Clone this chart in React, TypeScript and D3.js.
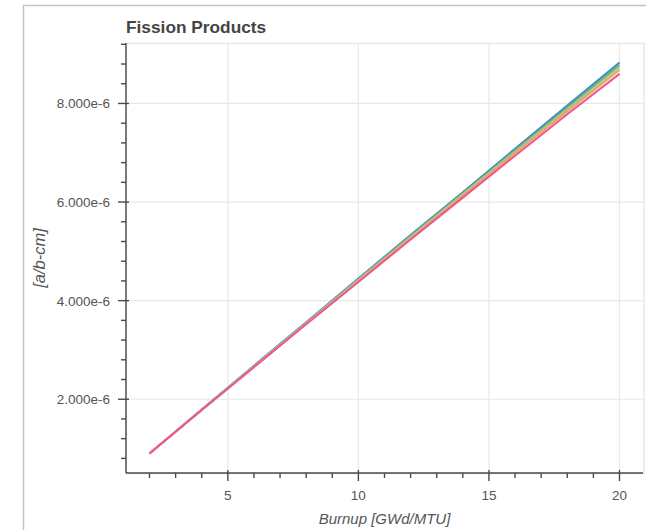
import React, { useRef, useEffect } from 'react';
import * as d3 from 'd3';

// burnup points (GWd/MTU)
const burnup = [2, 4, 6, 8, 10, 12, 14, 16, 18, 20];

// number densities, in units of 1e-6 a/b-cm
const seriesBlue = [0.9, 1.79, 2.68, 3.56, 4.45, 5.33, 6.2, 7.08, 7.96, 8.83];
const seriesTeal = [0.9, 1.79, 2.67, 3.55, 4.43, 5.31, 6.18, 7.05, 7.92, 8.78];
const seriesOlive = [0.9, 1.78, 2.66, 3.54, 4.42, 5.29, 6.16, 7.02, 7.88, 8.73];
const seriesTan = [0.9, 1.78, 2.66, 3.53, 4.4, 5.27, 6.13, 6.99, 7.84, 8.68];
const seriesPink = [0.9, 1.78, 2.65, 3.52, 4.38, 5.24, 6.09, 6.94, 7.78, 8.6];

const xMajorTicks = [5, 10, 15, 20];
const yMajorTicks = [2e-6, 4e-6, 6e-6, 8e-6];

const colors = ['#3a8cc4', '#5fae92', '#c2c46a', '#e3a672', '#f0558e'];

const App = () => {
  const svgRef = useRef<SVGSVGElement>(null);

  useEffect(() => {
    const svg = d3.select(svgRef.current);
    svg.selectAll('*').remove();

    const left = 126, right = 643, top = 43, bottom = 473;
    const font = 'Liberation Sans, Helvetica, Arial, sans-serif';

    const series = [seriesBlue, seriesTeal, seriesOlive, seriesTan, seriesPink]
      .map(s => s.map((v, i) => ({ x: burnup[i], y: v * 1e-6 })));

    // bokeh-style 5% padding on each side
    const xExt = d3.extent(burnup) as [number, number];
    const xPad = (xExt[1] - xExt[0]) * 0.05;
    const allY = series.flat().map(d => d.y);
    const yExt = d3.extent(allY) as [number, number];
    const yPad = (yExt[1] - yExt[0]) * 0.05;

    const x = d3.scaleLinear().domain([xExt[0] - xPad, xExt[1] + xPad]).range([left, right]);
    const y = d3.scaleLinear().domain([yExt[0] - yPad, yExt[1] + yPad]).range([bottom, top]);

    // outer cell frame
    svg.append('path')
      .attr('d', 'M23.5,530 V5.5 H646')
      .attr('fill', 'none')
      .attr('stroke', '#c4c4c4')
      .attr('stroke-width', 1.5);

    // plot outline
    svg.append('rect')
      .attr('x', left).attr('y', top + 0.5)
      .attr('width', right - left + 1).attr('height', bottom - top)
      .attr('fill', 'none')
      .attr('stroke', '#e8e8e8')
      .attr('stroke-width', 1.5);

    // grid
    const grid = svg.append('g').attr('stroke', '#e8e8e8').attr('stroke-width', 1.2);
    grid.selectAll('.gx').data(xMajorTicks).enter().append('line')
      .attr('x1', d => x(d)).attr('x2', d => x(d))
      .attr('y1', top).attr('y2', bottom);
    grid.selectAll('.gy').data(yMajorTicks).enter().append('line')
      .attr('x1', left).attr('x2', right)
      .attr('y1', d => y(d)).attr('y2', d => y(d));

    // lines, lowest drawn last like the reference
    const line = d3.line<{ x: number, y: number }>().x(d => x(d.x)).y(d => y(d.y));
    series.forEach((s, i) => {
      svg.append('path')
        .datum(s)
        .attr('d', line)
        .attr('fill', 'none')
        .attr('stroke', colors[i])
        .attr('stroke-width', 2);
    });

    const axisColor = '#4a4a4a';
    const labelColor = '#555';

    // x axis
    const xMinor = d3.range(Math.ceil(x.domain()[0]), x.domain()[1], 1).filter(v => !xMajorTicks.includes(v));
    const xa = svg.append('g').attr('stroke', axisColor);
    xa.append('line').attr('x1', left).attr('x2', right).attr('y1', bottom).attr('y2', bottom).attr('stroke-width', 1.4);
    xa.selectAll('.mj').data(xMajorTicks).enter().append('line')
      .attr('x1', d => x(d)).attr('x2', d => x(d))
      .attr('y1', bottom - 3).attr('y2', bottom + 8).attr('stroke-width', 1.4);
    xa.selectAll('.mn').data(xMinor).enter().append('line')
      .attr('x1', d => x(d)).attr('x2', d => x(d))
      .attr('y1', bottom).attr('y2', bottom + 5).attr('stroke-width', 1.4);
    svg.append('g').selectAll('text').data(xMajorTicks).enter().append('text')
      .attr('x', d => x(d)).attr('y', bottom + 27)
      .attr('text-anchor', 'middle')
      .attr('font-family', font).attr('font-size', 13.5)
      .attr('fill', labelColor)
      .text(d => d);

    // y axis
    const yMinor = d3.range(0.4e-6, y.domain()[1], 0.4e-6)
      .filter(v => v >= y.domain()[0] && !yMajorTicks.some(t => Math.abs(t - v) < 1e-9));
    const ya = svg.append('g').attr('stroke', axisColor);
    ya.append('line').attr('x1', left).attr('x2', left).attr('y1', top).attr('y2', bottom).attr('stroke-width', 1.4);
    ya.selectAll('.mj').data(yMajorTicks).enter().append('line')
      .attr('x1', left - 8).attr('x2', left + 3)
      .attr('y1', d => y(d)).attr('y2', d => y(d)).attr('stroke-width', 1.4);
    ya.selectAll('.mn').data(yMinor).enter().append('line')
      .attr('x1', left - 5).attr('x2', left)
      .attr('y1', d => y(d)).attr('y2', d => y(d)).attr('stroke-width', 1.4);
    svg.append('g').selectAll('text').data(yMajorTicks).enter().append('text')
      .attr('x', left - 16).attr('y', d => y(d) + 5)
      .attr('text-anchor', 'end')
      .attr('font-family', font).attr('font-size', 13.5)
      .attr('fill', labelColor)
      .text(d => (d * 1e6).toFixed(3) + 'e-6');

    // axis labels
    svg.append('text')
      .attr('x', (left + right) / 2).attr('y', 524)
      .attr('text-anchor', 'middle')
      .attr('font-family', font).attr('font-size', 15).attr('font-style', 'italic')
      .attr('fill', labelColor)
      .text('Burnup [GWd/MTU]');
    svg.append('text')
      .attr('transform', `translate(45,${(top + bottom) / 2}) rotate(-90)`)
      .attr('text-anchor', 'middle')
      .attr('font-family', font).attr('font-size', 16.5).attr('font-style', 'italic')
      .attr('fill', labelColor)
      .text('[a/b-cm]');

    // title
    svg.append('text')
      .attr('x', left).attr('y', 33)
      .attr('font-family', font).attr('font-size', 17.3).attr('font-weight', 'bold')
      .attr('fill', '#444')
      .text('Fission Products');
  }, []);

  return (
    <svg ref={svgRef} width={658} height={530}
      style={{ position: 'absolute', left: 0, top: 0, background: '#fff' }} />
  );
};

export default App;
